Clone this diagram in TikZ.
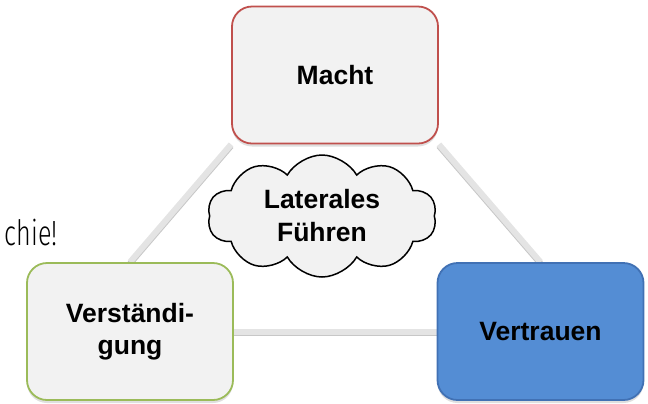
\documentclass[tikz,border=0pt]{standalone}
\usepackage{fontspec}
\setmainfont{Liberation Sans}
\newfontfamily\thinfont{Fira Sans Light}
\usepackage{xcolor}
\usepackage{tikz}
\usetikzlibrary{shapes.symbols, shadows, backgrounds}
\definecolor{myred}{RGB}{192,80,77}
\definecolor{mygreen}{RGB}{155,187,89}
\definecolor{myblue}{RGB}{84,141,212}
\definecolor{mydarkblue}{RGB}{65,113,180}
\definecolor{mygray}{RGB}{242,242,242}
\definecolor{linkgray}{RGB}{228,228,228}
\tikzset{
  box/.style={rectangle, fill=mygray, minimum width=206bp,
    minimum height=137bp, rounded corners=20bp, line width=1.8bp,
    align=center, font=\fontsize{26.5bp}{32bp}\selectfont\bfseries,
    drop shadow={opacity=0.25, shadow xshift=0bp, shadow yshift=-3bp}},
  redbox/.style={box, draw=myred},
  greenbox/.style={box, draw=mygreen},
  bluebox/.style={box, draw=mydarkblue, fill=myblue},
  cloudnode/.style={cloud, cloud puffs=10, cloud puff arc=120, aspect=2.1,
    draw=black, fill=mygray, line width=1.5bp, inner sep=0pt,
    minimum width=229bp, minimum height=122bp, align=center,
    font=\fontsize{26.5bp}{33bp}\selectfont\bfseries},
  link/.style={line width=6bp, draw=linkgray,
    preaction={draw=black!22, line width=6bp, transform canvas={yshift=-1.5bp}}}
}

\begin{document}
\begin{tikzpicture}[x=1bp, y=-1bp]
  \useasboundingbox (0,0) rectangle (648,403);

  % cut-off text at the left border
  \node[font=\thinfont\fontsize{35bp}{40bp}\selectfont, anchor=base east,
    inner sep=0pt] (hier) at (58,245) {\scalebox{0.72}[1]{chie!}};

  % the three corners
  \node[redbox] (macht) at (335,75) {Macht};
  \node[greenbox] (verst) at (130,331.5) {Verständi-\\gung};
  \node[bluebox] (vertr) at (540.5,331.5) {Vertrauen};

  % centre
  \node[cloudnode] (lateral) at (322,216) {Laterales\\Führen};

  % triangle edges
  \begin{scope}[on background layer]
    \draw[link] (macht.south west) -- (verst.north);
    \draw[link] (macht.south east) -- (vertr.north);
    \draw[link] (verst.east) -- (vertr.west);
  \end{scope}
\end{tikzpicture}
\end{document}
